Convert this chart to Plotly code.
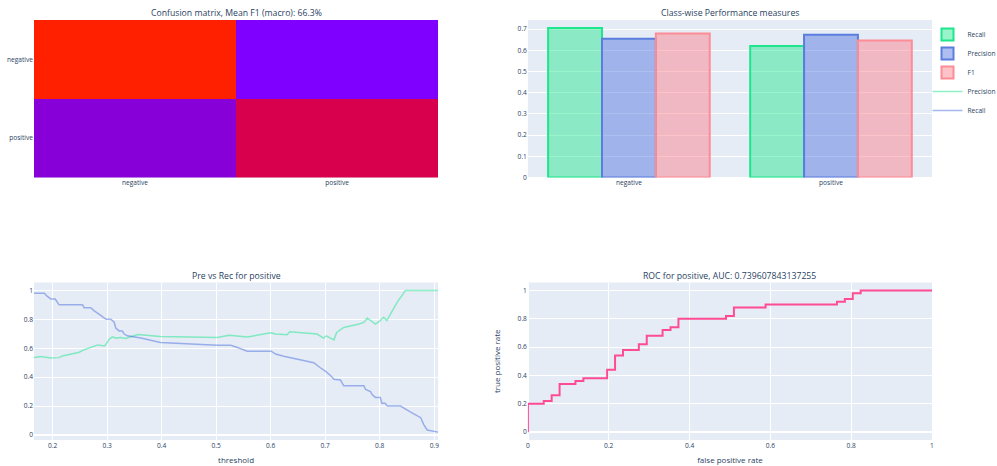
import plotly.graph_objects as go
from plotly.subplots import make_subplots

# ---------------- data ----------------
classes = ["negative", "positive"]
confusion = [[36, 15], [19, 31]]  # rows: true, cols: predicted
mean_f1_pct = 66.3

metric_names = ["Recall", "Precision", "F1"]
recall_vals = [0.706, 0.62]
precision_vals = [0.655, 0.674]
f1_vals = [0.679, 0.646]

pr_thr_recall = [0.166, 0.185, 0.190, 0.197, 0.205, 0.208, 0.212, 0.255, 0.258, 0.270,
                 0.276, 0.289, 0.298, 0.307, 0.313, 0.316, 0.322, 0.328, 0.331, 0.337,
                 0.350, 0.362, 0.386, 0.398, 0.502, 0.527, 0.539, 0.557, 0.601, 0.609,
                 0.624, 0.637, 0.655, 0.679, 0.691, 0.701, 0.710, 0.716, 0.728, 0.731,
                 0.734, 0.771, 0.774, 0.783, 0.786, 0.792, 0.801, 0.804, 0.810, 0.814,
                 0.838, 0.856, 0.875, 0.881, 0.884, 0.887, 0.907]
pr_recall = [0.98, 0.98, 0.96, 0.94, 0.94, 0.925, 0.90, 0.90, 0.88, 0.88,
             0.86, 0.826, 0.80, 0.80, 0.78, 0.74, 0.72, 0.72, 0.70, 0.686,
             0.68, 0.67, 0.65, 0.64, 0.62, 0.62, 0.605, 0.58, 0.58, 0.56,
             0.545, 0.535, 0.52, 0.50, 0.465, 0.44, 0.41, 0.385, 0.38, 0.36,
             0.34, 0.34, 0.315, 0.30, 0.28, 0.26, 0.26, 0.22, 0.22, 0.20,
             0.20, 0.16, 0.12, 0.07, 0.05, 0.035, 0.02]

pr_thr_precision = [0.166, 0.178, 0.197, 0.212, 0.218, 0.233, 0.249, 0.258, 0.270, 0.283,
                    0.295, 0.298, 0.304, 0.310, 0.316, 0.325, 0.334, 0.343, 0.356, 0.398,
                    0.502, 0.524, 0.557, 0.600, 0.609, 0.630, 0.635, 0.685, 0.697, 0.702,
                    0.716, 0.721, 0.728, 0.734, 0.762, 0.771, 0.777, 0.783, 0.792, 0.801,
                    0.807, 0.813, 0.820, 0.832, 0.841, 0.847, 0.907]
pr_precision = [0.535, 0.542, 0.533, 0.535, 0.547, 0.558, 0.572, 0.59, 0.605, 0.623,
                0.616, 0.628, 0.663, 0.679, 0.67, 0.674, 0.667, 0.679, 0.695, 0.681,
                0.674, 0.69, 0.677, 0.707, 0.698, 0.693, 0.714, 0.698, 0.67, 0.686,
                0.658, 0.709, 0.73, 0.744, 0.767, 0.779, 0.809, 0.791, 0.767, 0.791,
                0.814, 0.791, 0.842, 0.919, 0.965, 1.0, 1.0]

roc_fpr = [0.0, 0.0, 0.0392, 0.0392, 0.0588, 0.0588, 0.0784, 0.0784, 0.1176, 0.1176,
           0.1373, 0.1373, 0.1961, 0.1961, 0.2157, 0.2157, 0.2353, 0.2353, 0.2745, 0.2745,
           0.2941, 0.2941, 0.3333, 0.3333, 0.3529, 0.3529, 0.3725, 0.3725, 0.4902, 0.4902,
           0.5098, 0.5098, 0.5882, 0.5882, 0.7647, 0.7647, 0.7843, 0.7843, 0.8039, 0.8039,
           0.8235, 0.8235, 1.0]
roc_tpr = [0.0, 0.20, 0.20, 0.22, 0.22, 0.26, 0.26, 0.34, 0.34, 0.36,
           0.36, 0.38, 0.38, 0.44, 0.44, 0.54, 0.54, 0.58, 0.58, 0.62,
           0.62, 0.68, 0.68, 0.72, 0.72, 0.74, 0.74, 0.80, 0.80, 0.82,
           0.82, 0.88, 0.88, 0.90, 0.90, 0.92, 0.92, 0.94, 0.94, 0.98,
           0.98, 1.0, 1.0]
roc_auc = 0.739607843137255

# ---------------- styles ----------------
green_line = "rgb(30,230,140)"
green_fill = "rgba(30,230,140,0.45)"
blue_line = "rgb(90,125,222)"
blue_fill = "rgba(75,111,222,0.45)"
red_line = "rgb(252,140,150)"
red_fill = "rgba(253,122,133,0.45)"

fig = make_subplots(
    rows=2, cols=2,
    subplot_titles=(
        f"Confusion matrix, Mean F1 (macro): {mean_f1_pct}%",
        "Class-wise Performance measures",
        "Pre vs Rec for positive",
        f"ROC for positive, AUC: {roc_auc}",
    ),
    horizontal_spacing=0.1,
    vertical_spacing=0.25,
)

fig.add_trace(go.Heatmap(
    z=confusion, x=classes, y=classes,
    colorscale=[[0.0, "rgb(128,0,255)"], [0.1905, "rgb(136,0,216)"],
                [0.7619, "rgb(216,0,76)"], [1.0, "rgb(255,32,0)"]],
    showscale=False, hoverinfo="z",
), row=1, col=1)

for name, vals, fill, line in [("Recall", recall_vals, green_fill, green_line),
                               ("Precision", precision_vals, blue_fill, blue_line),
                               ("F1", f1_vals, red_fill, red_line)]:
    fig.add_trace(go.Bar(
        x=classes, y=vals, name=name,
        marker=dict(color=fill, line=dict(color=line, width=2)),
    ), row=1, col=2)

fig.add_trace(go.Scatter(
    x=pr_thr_precision, y=pr_precision, mode="lines", name="Precision",
    line=dict(color="rgba(30,230,140,0.5)", width=1.5),
), row=2, col=1)
fig.add_trace(go.Scatter(
    x=pr_thr_recall, y=pr_recall, mode="lines", name="Recall",
    line=dict(color="rgba(75,111,222,0.5)", width=1.5),
), row=2, col=1)

fig.add_trace(go.Scatter(
    x=roc_fpr, y=roc_tpr, mode="lines", showlegend=False,
    line=dict(color="rgb(255,75,145)", width=2),
), row=2, col=2)

fig.update_layout(
    width=997, height=466,
    margin=dict(l=34, r=65, t=20, b=26, autoexpand=False),
    font=dict(family="Open Sans, sans-serif", size=6.6, color="#2a3f5f"),
    barmode="group",
    legend=dict(font=dict(size=6.6), x=0.995, y=1.0, tracegroupgap=0,
                bgcolor="rgba(0,0,0,0)"),
    template="plotly",
)
fig.update_annotations(font=dict(size=8.7), yshift=-1.5)
fig.update_yaxes(autorange="reversed", row=1, col=1)
fig.update_yaxes(dtick=0.1, row=1, col=2)
fig.update_xaxes(dtick=0.1, title_text="threshold", title_font=dict(size=8),
                 title_standoff=8, row=2, col=1)
fig.update_yaxes(dtick=0.2, row=2, col=1)
fig.update_xaxes(dtick=0.2, title_text="false positive rate", title_font=dict(size=8),
                 title_standoff=8, row=2, col=2)
fig.update_yaxes(dtick=0.2, title_text="true positive rate", title_font=dict(size=8), row=2, col=2)

fig.write_html(
    "out.html",
    config={"displayModeBar": False},
    post_script="document.body.style.margin='0px';document.body.style.overflow='hidden';",
)
